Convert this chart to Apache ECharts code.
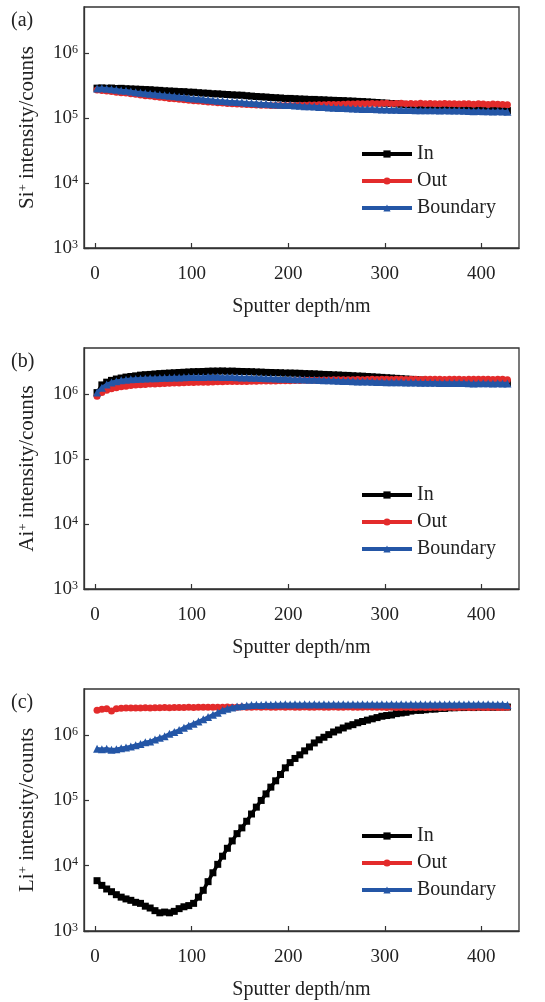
<!DOCTYPE html>
<html>
<head>
<meta charset="utf-8">
<script src="https://cdn.jsdelivr.net/npm/echarts@6/dist/echarts.min.js"></script>
<style>
html,body{margin:0;padding:0;background:#fff;}
#chart{width:545px;height:1002px;}
</style>
</head>
<body>
<div id="chart"></div>
<script>
// Sputter depth (nm)
const depth = [2,7,12,17,22,27,32,37,42,47,52,57,62,67,72,77,82,87,92,97,
  102,107,112,117,122,127,132,137,142,147,152,157,162,167,172,177,182,187,192,197,
  202,207,212,217,222,227,232,237,242,247,252,257,262,267,272,277,282,287,292,297,
  302,307,312,317,322,327,332,337,342,347,352,357,362,367,372,377,382,387,392,397,
  402,407,412,417,422,427];

// (a) Si+ intensity (counts)
const siIn = [2.88e5,2.9e5,2.87e5,2.89e5,2.84e5,2.86e5,2.82e5,2.8e5,2.78e5,2.76e5,
  2.74e5,2.72e5,2.68e5,2.66e5,2.62e5,2.6e5,2.58e5,2.55e5,2.54e5,2.5e5,
  2.49e5,2.45e5,2.42e5,2.4e5,2.36e5,2.35e5,2.32e5,2.3e5,2.27e5,2.25e5,
  2.24e5,2.2e5,2.17e5,2.14e5,2.12e5,2.1e5,2.07e5,2.05e5,2.03e5,2.0e5,
  2.0e5,1.98e5,1.96e5,1.95e5,1.93e5,1.93e5,1.91e5,1.9e5,1.88e5,1.87e5,
  1.86e5,1.85e5,1.83e5,1.82e5,1.8e5,1.79e5,1.77e5,1.75e5,1.73e5,1.71e5,
  1.69e5,1.67e5,1.65e5,1.63e5,1.61e5,1.59e5,1.57e5,1.55e5,1.53e5,1.51e5,
  1.5e5,1.49e5,1.48e5,1.47e5,1.46e5,1.45e5,1.44e5,1.43e5,1.42e5,1.41e5,
  1.4e5,1.38e5,1.37e5,1.35e5,1.33e5,1.3e5];
const siOut = [2.7e5,2.66e5,2.6e5,2.55e5,2.5e5,2.45e5,2.42e5,2.36e5,2.32e5,2.26e5,
  2.2e5,2.17e5,2.12e5,2.08e5,2.05e5,2.0e5,1.98e5,1.94e5,1.91e5,1.87e5,
  1.85e5,1.82e5,1.79e5,1.77e5,1.74e5,1.72e5,1.7e5,1.67e5,1.66e5,1.64e5,
  1.63e5,1.61e5,1.6e5,1.58e5,1.57e5,1.57e5,1.56e5,1.55e5,1.55e5,1.55e5,
  1.55e5,1.56e5,1.57e5,1.57e5,1.58e5,1.59e5,1.6e5,1.6e5,1.61e5,1.62e5,
  1.62e5,1.63e5,1.64e5,1.64e5,1.65e5,1.66e5,1.66e5,1.67e5,1.66e5,1.67e5,
  1.68e5,1.66e5,1.67e5,1.68e5,1.66e5,1.67e5,1.66e5,1.68e5,1.66e5,1.67e5,
  1.66e5,1.65e5,1.67e5,1.65e5,1.66e5,1.64e5,1.66e5,1.65e5,1.63e5,1.65e5,
  1.64e5,1.62e5,1.64e5,1.63e5,1.61e5,1.6e5];
const siBoundary = [2.85e5,2.87e5,2.82e5,2.78e5,2.72e5,2.66e5,2.62e5,2.56e5,2.5e5,2.45e5,
  2.4e5,2.36e5,2.32e5,2.28e5,2.24e5,2.2e5,2.16e5,2.12e5,2.08e5,2.03e5,
  2.0e5,1.97e5,1.94e5,1.91e5,1.88e5,1.85e5,1.83e5,1.8e5,1.78e5,1.76e5,
  1.75e5,1.72e5,1.7e5,1.68e5,1.66e5,1.65e5,1.63e5,1.62e5,1.6e5,1.59e5,
  1.58e5,1.56e5,1.54e5,1.52e5,1.51e5,1.5e5,1.48e5,1.47e5,1.45e5,1.44e5,
  1.43e5,1.42e5,1.41e5,1.4e5,1.39e5,1.38e5,1.37e5,1.37e5,1.36e5,1.35e5,
  1.35e5,1.34e5,1.34e5,1.33e5,1.33e5,1.33e5,1.32e5,1.32e5,1.31e5,1.31e5,
  1.31e5,1.3e5,1.31e5,1.3e5,1.3e5,1.3e5,1.29e5,1.28e5,1.27e5,1.28e5,
  1.27e5,1.27e5,1.26e5,1.27e5,1.26e5,1.25e5];

// (b) Ai+ intensity (counts)
const alIn = [1.05e6,1.38e6,1.52e6,1.62e6,1.7e6,1.76e6,1.82e6,1.86e6,1.9e6,1.95e6,
  1.98e6,2.0e6,2.03e6,2.06e6,2.08e6,2.1e6,2.12e6,2.14e6,2.16e6,2.18e6,
  2.2e6,2.21e6,2.22e6,2.24e6,2.25e6,2.25e6,2.26e6,2.24e6,2.25e6,2.23e6,
  2.22e6,2.21e6,2.2e6,2.18e6,2.17e6,2.15e6,2.14e6,2.13e6,2.12e6,2.1e6,
  2.1e6,2.09e6,2.08e6,2.06e6,2.05e6,2.04e6,2.02e6,2.0e6,1.99e6,1.97e6,
  1.96e6,1.94e6,1.93e6,1.91e6,1.89e6,1.88e6,1.86e6,1.84e6,1.82e6,1.8e6,
  1.78e6,1.76e6,1.74e6,1.72e6,1.7e6,1.68e6,1.66e6,1.64e6,1.62e6,1.6e6,
  1.59e6,1.58e6,1.57e6,1.56e6,1.55e6,1.55e6,1.54e6,1.53e6,1.53e6,1.52e6,
  1.52e6,1.51e6,1.5e6,1.5e6,1.49e6,1.48e6];
const alOut = [9.2e5,1.05e6,1.14e6,1.2e6,1.25e6,1.29e6,1.32e6,1.35e6,1.37e6,1.39e6,
  1.4e6,1.42e6,1.43e6,1.44e6,1.45e6,1.46e6,1.47e6,1.48e6,1.49e6,1.5e6,
  1.5e6,1.51e6,1.52e6,1.52e6,1.53e6,1.54e6,1.54e6,1.55e6,1.55e6,1.55e6,
  1.56e6,1.56e6,1.57e6,1.57e6,1.58e6,1.58e6,1.59e6,1.59e6,1.6e6,1.6e6,
  1.6e6,1.61e6,1.61e6,1.62e6,1.62e6,1.63e6,1.63e6,1.64e6,1.64e6,1.65e6,
  1.65e6,1.66e6,1.65e6,1.66e6,1.67e6,1.66e6,1.67e6,1.68e6,1.67e6,1.68e6,
  1.68e6,1.67e6,1.69e6,1.68e6,1.67e6,1.69e6,1.68e6,1.67e6,1.69e6,1.68e6,
  1.68e6,1.69e6,1.67e6,1.68e6,1.69e6,1.68e6,1.67e6,1.69e6,1.68e6,1.68e6,
  1.69e6,1.68e6,1.67e6,1.69e6,1.68e6,1.66e6];
const alBoundary = [1.05e6,1.25e6,1.4e6,1.5e6,1.57e6,1.62e6,1.65e6,1.68e6,1.7e6,1.72e6,
  1.73e6,1.74e6,1.75e6,1.76e6,1.77e6,1.78e6,1.79e6,1.8e6,1.81e6,1.82e6,
  1.82e6,1.83e6,1.83e6,1.84e6,1.84e6,1.84e6,1.83e6,1.83e6,1.82e6,1.81e6,
  1.8e6,1.79e6,1.78e6,1.77e6,1.76e6,1.75e6,1.74e6,1.73e6,1.72e6,1.71e6,
  1.7e6,1.69e6,1.68e6,1.67e6,1.66e6,1.65e6,1.64e6,1.63e6,1.62e6,1.61e6,
  1.6e6,1.59e6,1.58e6,1.57e6,1.56e6,1.56e6,1.55e6,1.54e6,1.53e6,1.53e6,
  1.52e6,1.52e6,1.51e6,1.51e6,1.5e6,1.5e6,1.5e6,1.49e6,1.49e6,1.49e6,
  1.49e6,1.48e6,1.48e6,1.48e6,1.47e6,1.47e6,1.47e6,1.46e6,1.45e6,1.46e6,
  1.46e6,1.46e6,1.45e6,1.46e6,1.45e6,1.45e6];

// (c) Li+ intensity (counts)
const liIn = [5900,5000,4400,4000,3600,3300,3100,2950,2750,2650,
  2400,2250,2050,1900,1950,1900,2000,2200,2350,2450,
  2650,3300,4200,5700,7800,10500,14000,18500,24000,31000,
  38000,48000,62000,79000,100000,126000,160000,200000,250000,316000,
  380000,440000,500000,575000,660000,760000,850000,930000,1020000,1120000,
  1200000,1290000,1380000,1450000,1550000,1620000,1700000,1780000,1860000,1950000,
  2000000,2040000,2140000,2190000,2240000,2340000,2400000,2400000,2450000,2510000,
  2510000,2570000,2570000,2630000,2630000,2650000,2650000,2680000,2650000,2700000,
  2680000,2700000,2680000,2700000,2720000,2700000];
const liOut = [2.4e6,2.5e6,2.55e6,2.35e6,2.55e6,2.58e6,2.6e6,2.6e6,2.62e6,2.6e6,
  2.63e6,2.62e6,2.64e6,2.63e6,2.65e6,2.64e6,2.66e6,2.65e6,2.66e6,2.67e6,
  2.66e6,2.68e6,2.67e6,2.68e6,2.67e6,2.69e6,2.68e6,2.7e6,2.68e6,2.69e6,
  2.7e6,2.68e6,2.69e6,2.7e6,2.68e6,2.7e6,2.69e6,2.68e6,2.7e6,2.69e6,
  2.7e6,2.68e6,2.69e6,2.7e6,2.68e6,2.69e6,2.7e6,2.68e6,2.69e6,2.7e6,
  2.68e6,2.69e6,2.7e6,2.68e6,2.69e6,2.68e6,2.7e6,2.68e6,2.67e6,2.68e6,
  2.66e6,2.67e6,2.65e6,2.66e6,2.67e6,2.65e6,2.66e6,2.67e6,2.65e6,2.66e6,
  2.67e6,2.65e6,2.66e6,2.67e6,2.65e6,2.66e6,2.67e6,2.65e6,2.66e6,2.67e6,
  2.65e6,2.66e6,2.67e6,2.65e6,2.66e6,2.67e6];
const liBoundary = [6.2e5,6.1e5,6.2e5,6.0e5,6.1e5,6.3e5,6.5e5,6.7e5,7.0e5,7.3e5,
  7.8e5,8.0e5,8.6e5,9.1e5,9.6e5,1.05e6,1.12e6,1.2e6,1.3e6,1.4e6,
  1.5e6,1.62e6,1.75e6,1.9e6,2.05e6,2.2e6,2.4e6,2.55e6,2.65e6,2.75e6,
  2.8e6,2.85e6,2.9e6,2.92e6,2.9e6,2.95e6,2.93e6,2.96e6,2.94e6,2.97e6,
  2.95e6,2.97e6,2.95e6,2.98e6,2.96e6,2.97e6,2.95e6,2.98e6,2.96e6,2.97e6,
  2.96e6,2.98e6,2.95e6,2.97e6,2.96e6,2.98e6,2.95e6,2.97e6,2.96e6,2.98e6,
  2.95e6,2.97e6,2.96e6,2.98e6,2.95e6,2.97e6,2.96e6,2.98e6,2.95e6,2.97e6,
  2.96e6,2.98e6,2.95e6,2.97e6,2.96e6,2.98e6,2.95e6,2.97e6,2.96e6,2.97e6,
  2.95e6,2.97e6,2.96e6,2.94e6,2.95e6,2.9e6];

const seriesNames = ['In', 'Out', 'Boundary'];
const xTicks = [0, 100, 200, 300, 400];
const yTicks = [1e3, 1e4, 1e5, 1e6];
const panelLabels = ['(a)', '(b)', '(c)'];
const ionLabels = ['Si', 'Ai', 'Li'];
const xName = 'Sputter depth/nm';

const panels = [
  [siIn, siOut, siBoundary],
  [alIn, alOut, alBoundary],
  [liIn, liOut, liBoundary]
];

const FONT = '"Liberation Serif", "Times New Roman", serif';
const colors = ['#000000', '#e32b2b', '#2456a6'];
const symbols = ['rect', 'circle', 'triangle'];
const symbolSizes = [7, 7, 8];
const gridTops = [7, 348, 689];
const gridH = [241, 241, 242];

const grids = [], xAxes = [], yAxes = [], series = [], legends = [], graphics = [];
panels.forEach((p, gi) => {
  grids.push({left: 84, top: gridTops[gi], width: 435, height: gridH[gi],
    show: true, borderColor: '#333', borderWidth: 1.3, backgroundColor: 'transparent'});
  xAxes.push({
    type: 'value', gridIndex: gi, min: -11.5, max: 439,
    axisLine: {show: true, onZero: false, lineStyle: {color: '#333', width: 1.3}},
    axisTick: {show: true, inside: true, length: 5, customValues: xTicks, lineStyle: {color: '#333', width: 1.2}},
    axisLabel: {customValues: xTicks, fontSize: 19, color: '#222', fontFamily: FONT, margin: 17},
    splitLine: {show: false},
    name: xName, nameLocation: 'middle', nameGap: 49,
    nameTextStyle: {fontSize: 20, color: '#222', fontFamily: FONT}
  });
  yAxes.push({
    type: 'log', logBase: 10, gridIndex: gi, min: 999.9, max: 5.1e6,
    axisLine: {show: true, onZero: false, lineStyle: {color: '#333', width: 1.3}},
    axisTick: {show: true, inside: true, length: 5, customValues: yTicks, lineStyle: {color: '#333', width: 1.2}},
    minorTick: {show: false},
    axisLabel: {
      customValues: yTicks, margin: 6, color: '#222',
      formatter: v => '{b|10}{s|' + Math.round(Math.log10(v)) + '}',
      rich: {
        b: {fontSize: 19, fontFamily: FONT, color: '#222'},
        s: {fontSize: 12, fontFamily: FONT, color: '#222', verticalAlign: 'top'}
      }
    },
    splitLine: {show: false},
    name: '{n|' + ionLabels[gi] + '}{s|+}{n| intensity/counts}',
    nameLocation: 'middle', nameGap: 46,
    nameTextStyle: {
      rich: {
        n: {fontSize: 21, fontFamily: FONT, color: '#222'},
        s: {fontSize: 13, fontFamily: FONT, color: '#222', verticalAlign: 'top'}
      }
    }
  });
  p.forEach((arr, si) => {
    series.push({
      type: 'line', name: seriesNames[si], xAxisIndex: gi, yAxisIndex: gi,
      data: depth.map((d, i) => [d, arr[i]]),
      symbol: symbols[si], symbolSize: symbolSizes[si], showAllSymbol: true,
      lineStyle: {color: colors[si], width: 3.5},
      itemStyle: {color: colors[si]},
      z: 2 + si
    });
  });
  legends.push({
    orient: 'vertical', left: 360, top: gridTops[gi] + 137, padding: 0,
    itemWidth: 50, itemHeight: 9, itemGap: 7,
    data: seriesNames,
    lineStyle: {width: 4},
    textStyle: {fontSize: 20, color: '#222', fontFamily: FONT}
  });
  graphics.push({
    type: 'text', left: 11, top: gridTops[gi] + 4,
    style: {text: panelLabels[gi], font: '20px ' + FONT, fill: '#222'}
  });
});

const chart = echarts.init(document.getElementById('chart'), null, {renderer: 'canvas'});
chart.setOption({
  animation: false,
  backgroundColor: '#fff',
  grid: grids, xAxis: xAxes, yAxis: yAxes, series: series,
  legend: legends, graphic: graphics
});
</script>
</body>
</html>
